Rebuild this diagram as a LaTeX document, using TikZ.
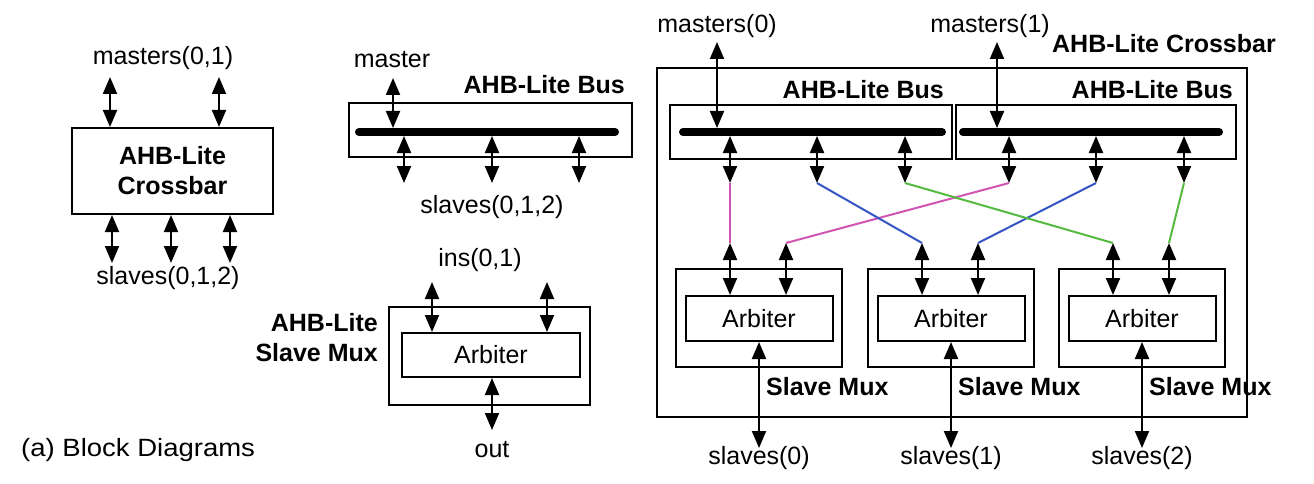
\documentclass[tikz,border=0pt]{standalone}
\usepackage{fontspec}
\setmainfont{Liberation Sans}
\usetikzlibrary{arrows.meta}
\definecolor{wpink}{RGB}{208,84,176}
\definecolor{wblue}{RGB}{52,84,196}
\definecolor{wgreen}{RGB}{84,186,64}
\tikzset{
  box/.style={draw, line width=2pt, inner sep=0pt},
  lbl/.style={font=\fontsize{25}{30}\selectfont, inner sep=0pt},
  blbl/.style={inner sep=0pt, font=\fontsize{25}{30}\selectfont\bfseries},
  arr/.style={line width=2pt, {Triangle[length=17pt,width=14pt]}-{Triangle[length=17pt,width=14pt]}},
  busbar/.style={line width=8pt, line cap=round},
  wire/.style={line width=2pt},
}
\begin{document}
\begin{tikzpicture}[x=1pt,y=-1pt]
\useasboundingbox (0,0) rectangle (1314,484);

% ---------- left: crossbar block ----------
\node[box, minimum width=201pt, minimum height=86pt, blbl, align=center] (xbar) at (172.5,171) {AHB-Lite\\Crossbar};
\node[lbl] (xbm) at (163,58) {masters(0,1)};
\coordinate (xbm1) at (110,77);
\coordinate (xbm2) at (219,77);
\draw[arr] (xbm1) -- (xbm1 |- xbar.north);
\draw[arr] (xbm2) -- (xbm2 |- xbar.north);
\foreach \n/\x in {1/112,2/171,3/230} {
  \coordinate (xbs\n) at (\x,263);
  \draw[arr] (xbs\n |- xbar.south) -- (xbs\n);
}
\node[lbl] (xbs) at (168,278) {slaves(0,1,2)};

% ---------- middle: bus block ----------
\node[box, minimum width=283pt, minimum height=54pt] (bus0) at (490.5,130) {};
\coordinate (b0L) at (359,132);
\coordinate (b0R) at (615,132);
\draw[busbar] (b0L) -- (b0R);
\node[lbl] (b0m) at (392,60) {master};
\coordinate (b0mt) at (393,78);
\coordinate (b0mb) at (393,128);
\draw[arr] (b0mt) -- (b0mb);
\node[blbl, anchor=east] (b0t) at (625,85) {AHB-Lite Bus};
\foreach \n/\x in {1/404,2/492,3/579} {
  \coordinate (b0d\n) at (\x,136);
  \coordinate (b0e\n) at (\x,183);
  \draw[arr] (b0d\n) -- (b0e\n);
}
\node[lbl] (b0s) at (492,207) {slaves(0,1,2)};

% ---------- middle: slave mux block ----------
\node[box, minimum width=201pt, minimum height=98pt] (smx) at (489.5,356) {};
\node[box, lbl, minimum width=178pt, minimum height=44pt] (arb) at (491,355) {Arbiter};
\node[lbl] (ins) at (480,260) {ins(0,1)};
\coordinate (smi1) at (432,282);
\coordinate (smi2) at (547,282);
\draw[arr] (smi1) -- (smi1 |- arb.north);
\draw[arr] (smi2) -- (smi2 |- arb.north);
\coordinate (smo) at (492,430);
\draw[arr] (smo |- arb.south) -- (smo);
\node[lbl] (out) at (492,450) {out};
\node[blbl, anchor=east] (sml1) at (378,323) {AHB-Lite};
\node[blbl, anchor=east] (sml2) at (378,353) {Slave Mux};

\node[inner sep=0pt, anchor=west, font=\fontsize{25}{30}\selectfont\addfontfeatures{FakeStretch=1.1}] (cap) at (21,450) {(a) Block Diagrams};

% ---------- right: full crossbar ----------
\node[box, minimum width=590pt, minimum height=349pt] (cb) at (952,242.5) {};
\node[blbl, anchor=east] (cbt) at (1276,44) {AHB-Lite Crossbar};
\node[lbl] (m0) at (717,26) {masters(0)};
\node[lbl] (m1) at (990,26) {masters(1)};

\node[box, minimum width=282pt, minimum height=54pt] (bus1) at (811,132) {};
\node[box, minimum width=280pt, minimum height=54pt] (bus2) at (1096,132) {};
\coordinate (b1L) at (683,132);
\coordinate (b1R) at (942,132);
\coordinate (b2L) at (963,132);
\coordinate (b2R) at (1219,132);
\draw[busbar] (b1L) -- (b1R);
\draw[busbar] (b2L) -- (b2R);
\node[blbl, anchor=east] (b1t) at (944,90) {AHB-Lite Bus};
\node[blbl, anchor=east] (b2t) at (1233,90) {AHB-Lite Bus};

\coordinate (m0t) at (717,42);
\coordinate (m0b) at (717,128);
\coordinate (m1t) at (997,42);
\coordinate (m1b) at (997,128);
\draw[arr] (m0t) -- (m0b);
\draw[arr] (m1t) -- (m1b);

\foreach \n/\x in {1/730,2/817,3/905,4/1009,5/1096,6/1184} {
  \coordinate (bt\n) at (\x,136);
  \coordinate (d\n) at (\x,183);
  \draw[arr] (bt\n) -- (d\n);
}

\foreach \k/\c in {0/759,1/951,2/1142} {
  \node[box, minimum width=166pt, minimum height=98pt] (xm\k) at (\c,318) {};
  \node[box, lbl, minimum width=147pt, minimum height=45pt] (xa\k) at (\c,318.5) {Arbiter};
  \coordinate (i\k a) at ({\c-29},243);
  \coordinate (i\k b) at ({\c+27},243);
  \draw[arr] (i\k a) -- (i\k a |- xa\k.north);
  \draw[arr] (i\k b) -- (i\k b |- xa\k.north);
  \coordinate (xs\k) at (\c,448);
  \draw[arr] (xs\k |- xa\k.south) -- (xs\k);
  \node[blbl, anchor=west] (xl\k) at ({\c+7},387) {Slave Mux};
  \node[lbl] (xt\k) at (\c,458) {slaves(\k)};
}

\draw[wire, wpink] (d1) -- (i0a);
\draw[wire, wpink] (d4) -- (i0b);
\draw[wire, wblue] (d2) -- (i1a);
\draw[wire, wblue] (d5) -- (i1b);
\draw[wire, wgreen] (d3) -- (i2a);
\draw[wire, wgreen] (d6) -- (i2b);
\end{tikzpicture}
\end{document}
